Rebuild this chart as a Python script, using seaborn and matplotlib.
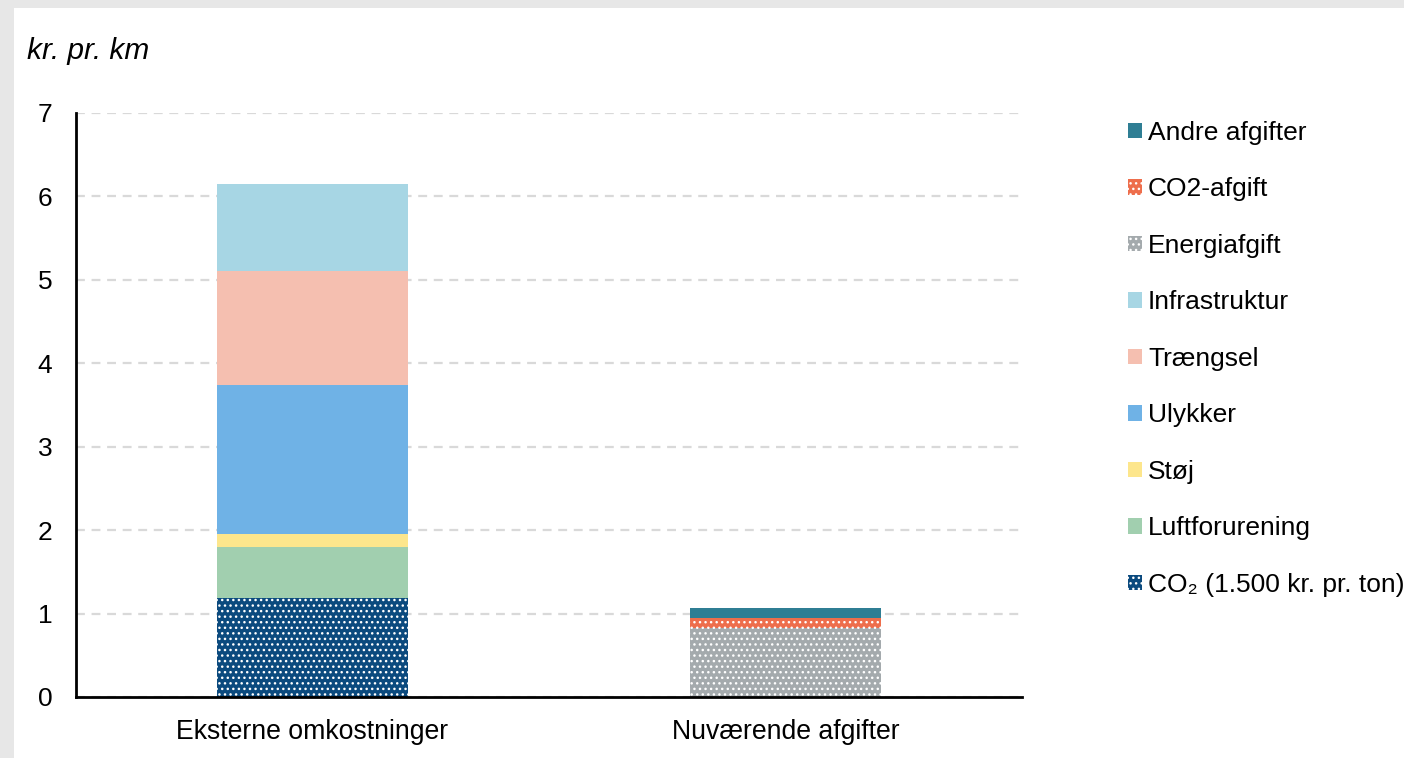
import matplotlib
matplotlib.use("Agg")
import matplotlib.pyplot as plt
from matplotlib.patches import Patch, Rectangle
import seaborn as sns
import pandas as pd

# Cost components (kr. per km), stacked bottom to top
categories = ["Eksterne omkostninger", "Nuværende afgifter"]
co2 = [1.19, 0.0]
luftforurening = [0.61, 0.0]
stoej = [0.15, 0.0]
ulykker = [1.79, 0.0]
traengsel = [1.37, 0.0]
infrastruktur = [1.04, 0.0]
energiafgift = [0.0, 0.83]
co2_afgift = [0.0, 0.12]
andre_afgifter = [0.0, 0.12]

y_ticks = [0, 1, 2, 3, 4, 5, 6, 7]

# (label, values, colour, hatch) in stacking order
layers = [
    ("CO₂ (1.500 kr. pr. ton)", co2, "#0b4a7e", "..."),
    ("Luftforurening", luftforurening, "#a1cfaf", None),
    ("Støj", stoej, "#fde68c", None),
    ("Ulykker", ulykker, "#6fb2e6", None),
    ("Trængsel", traengsel, "#f5bfb0", None),
    ("Infrastruktur", infrastruktur, "#a7d6e4", None),
    ("Energiafgift", energiafgift, "#a4aaad", "..."),
    ("CO2-afgift", co2_afgift, "#ee6e4c", "..."),
    ("Andre afgifter", andre_afgifter, "#2f7e94", None),
]

sns.set_style("white")
plt.rcParams["font.family"] = ["Liberation Sans", "DejaVu Sans"]
plt.rcParams["text.color"] = "black"
plt.rcParams["hatch.color"] = "white"
plt.rcParams["hatch.linewidth"] = 1.0

fig = plt.figure(figsize=(14.04, 7.58), dpi=100, facecolor="#e7e7e7")
fig.patches.append(Rectangle((14 / 1404, 0), 1, 1 - 8 / 758, transform=fig.transFigure,
                             facecolor="white", edgecolor="none", zorder=-5))
ax = fig.add_axes([76 / 1404, 61 / 758, 946 / 1404, 584 / 758])
ax.set_facecolor("none")

bottom = [0.0, 0.0]
for label, vals, color, hatch in layers:
    df = pd.DataFrame({"kategori": categories, "værdi": vals})
    sns.barplot(data=df, x="kategori", y="værdi", bottom=bottom, color=color,
                saturation=1, width=0.404, hatch=hatch, edgecolor="white",
                linewidth=0, ax=ax, zorder=3)
    bottom = [b + v for b, v in zip(bottom, vals)]

ax.set_xlim(-0.5, 1.5)
ax.set_ylim(0, 7)
ax.set_yticks(y_ticks)
ax.set_xlabel("")
ax.set_ylabel("")
ax.yaxis.grid(True, color="#d9d9d9", linestyle=(0, (4, 3)), linewidth=1.6, zorder=0)
ax.xaxis.grid(False)
for side in ["top", "right"]:
    ax.spines[side].set_visible(False)
for side in ["left", "bottom"]:
    ax.spines[side].set_color("black")
    ax.spines[side].set_linewidth(2)
    ax.spines[side].set_zorder(5)
ax.tick_params(axis="y", length=0, pad=17, labelsize=19, colors="black")
ax.tick_params(axis="x", length=0, pad=15.5, labelsize=19.2, colors="black")

fig.text(27 / 1404, 1 - 51 / 758, "kr. pr. km", style="italic", fontsize=21.5,
         va="center", ha="left", color="black")

handles = [Patch(facecolor=c, edgecolor="white", linewidth=0, hatch=h, label=l)
           for l, v, c, h in reversed(layers)]
leg = fig.legend(handles=handles, loc="upper left",
                 bbox_to_anchor=(1128 / 1404, 1 - 121 / 758),
                 frameon=False, fontsize=19, handlelength=0.53, handleheight=0.53,
                 handletextpad=0.23, labelspacing=1.23, borderaxespad=0, borderpad=0,
                 labelcolor="black")

fig.savefig("out.png", dpi=100, facecolor=fig.get_facecolor())
